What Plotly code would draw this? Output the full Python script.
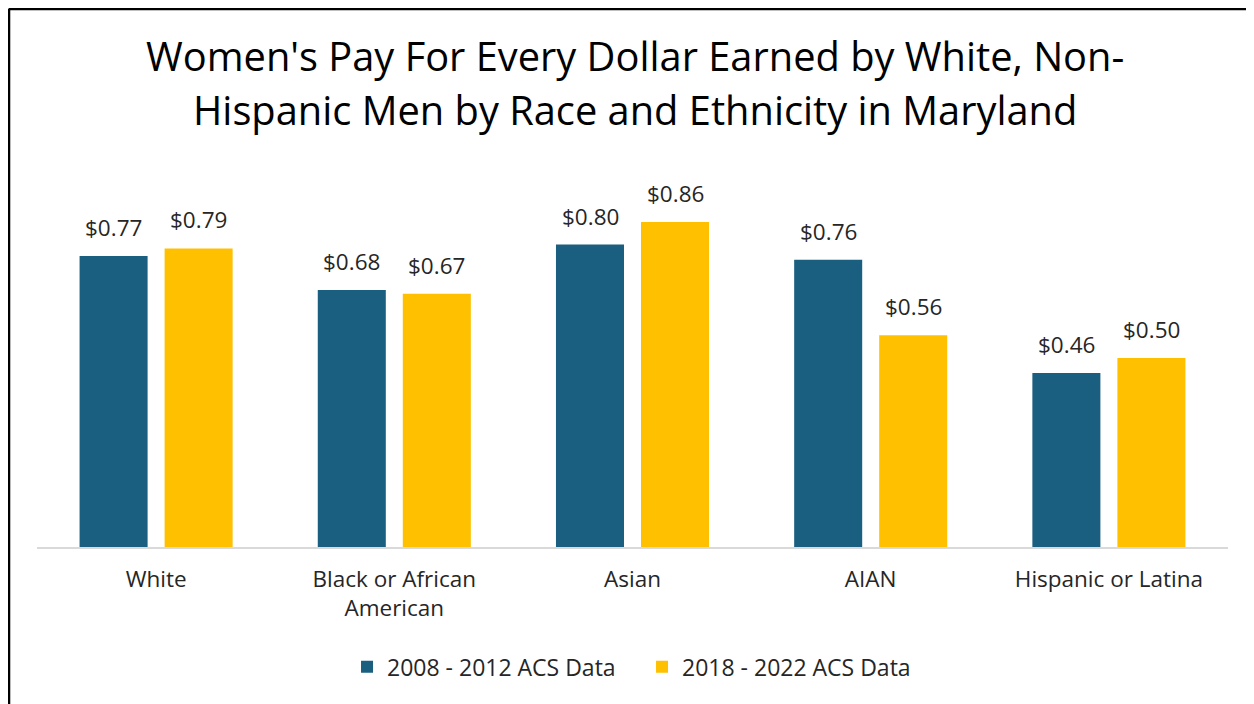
import plotly.graph_objects as go

categories = ["White", "Black or African<br>American", "Asian", "AIAN", "Hispanic or Latina"]
series_names = ["2008 - 2012 ACS Data", "2018 - 2022 ACS Data"]
values_2012 = [0.77, 0.68, 0.80, 0.76, 0.46]
values_2022 = [0.79, 0.67, 0.86, 0.56, 0.50]
colors = ["#1A5E80", "#FFC000"]

title_lines = ["Women's Pay For Every Dollar Earned by White, Non-",
               "Hispanic Men by Race and Ethnicity in Maryland"]

FONT = "Open Sans"
TXT = "#262626"

fig = go.Figure()
for name, vals, col in zip(series_names, [values_2012, values_2022], colors):
    fig.add_trace(go.Bar(x=categories, y=vals, name=name, marker_color=col,
                         marker_line_width=0))

# data labels
for vals, shift in zip([values_2012, values_2022], [-42.5, 42.5]):
    for c, v in zip(categories, vals):
        fig.add_annotation(x=c, y=v, xref="x", yref="y", text=f"${v:.2f}",
                           showarrow=False, xshift=shift, yshift=11,
                           yanchor="bottom", font=dict(family=FONT, size=22.5, color=TXT))

for line, ypos in zip(title_lines, [1.30, 1.157]):
    fig.add_annotation(x=0.5025, y=ypos, xref="paper", yref="paper", text=line,
                       showarrow=False, xanchor="center", yanchor="middle",
                       font=dict(family=FONT, size=39.8, color="#000000"))

# frame lines (document border)
fig.add_shape(type="line", xref="paper", yref="paper", x0=-0.0237, x1=1.05, y0=1.424, y1=1.424,
              line=dict(color="#000000", width=3))
fig.add_shape(type="line", xref="paper", yref="paper", x0=-0.0237, x1=-0.0237, y0=1.424, y1=-0.5,
              line=dict(color="#000000", width=3))

fig.update_layout(
    width=1254, height=704,
    margin=dict(l=29, r=34, t=161, b=165),
    paper_bgcolor="white", plot_bgcolor="white",
    barmode="group", bargap=0.286, bargroupgap=0.2,
    showlegend=True,
    legend=dict(orientation="h", x=0.508, xanchor="center", y=-0.317, yanchor="middle",
                font=dict(family=FONT, size=23, color=TXT), itemwidth=30,
                entrywidth=250, entrywidthmode="pixels",
                traceorder="normal"),
    font=dict(family=FONT, color=TXT),
)
fig.update_xaxes(showline=True, linecolor="#D9D9D9", linewidth=2, ticks="",
                 tickfont=dict(family=FONT, size=22.5, color=TXT), ticklabelstandoff=11,
                 showgrid=False)
fig.update_yaxes(range=[0, 1.0], visible=False, showgrid=False, zeroline=False)

fig.write_html("out.html")
